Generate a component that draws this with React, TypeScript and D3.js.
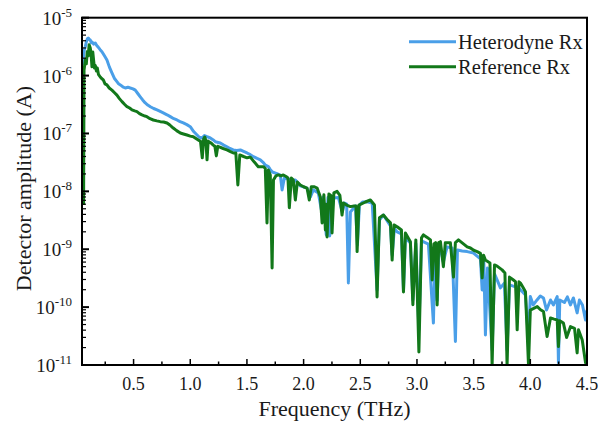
import React from "react";
import * as d3 from "d3";

// ---- data (frequency in THz, amplitude in A) ----
const heteroFreq = [0.050,0.065,0.075,0.083,0.092,0.100,0.110,0.118,0.127,0.135,0.148,0.162,0.175,0.188,0.205,0.221,0.243,0.265,0.287,0.309,0.330,0.353,0.368,0.383,0.405,0.427,0.450,0.471,0.495,0.515,0.537,0.559,0.580,0.603,0.625,0.648,0.677,0.707,0.735,0.762,0.795,0.824,0.855,0.883,0.910,0.939,0.970,1.000,1.030,1.060,1.080,1.104,1.125,1.148,1.177,1.200,1.221,1.265,1.295,1.324,1.350,1.380,1.410,1.442,1.470,1.501,1.530,1.557,1.590,1.618,1.640,1.662,1.689,1.705,1.724,1.759,1.795,1.810,1.830,1.855,1.883,1.927,1.971,2.030,2.060,2.086,2.130,2.157,2.174,2.200,2.215,2.230,2.263,2.307,2.342,2.360,2.380,2.395,2.413,2.457,2.475,2.492,2.519,2.560,2.605,2.648,2.669,2.704,2.766,2.781,2.801,2.825,2.863,2.881,2.898,2.942,2.964,2.990,3.017,3.040,3.101,3.145,3.160,3.178,3.195,3.207,3.233,3.266,3.310,3.339,3.357,3.399,3.443,3.499,3.560,3.575,3.590,3.604,3.622,3.663,3.684,3.707,3.736,3.771,3.795,3.816,3.850,3.884,3.913,3.957,3.984,4.000,4.026,4.059,4.088,4.116,4.143,4.178,4.204,4.237,4.248,4.260,4.301,4.327,4.354,4.380,4.413,4.433,4.460,4.487,4.500];
const heteroAmp = [1.52e-6,2.77e-6,3.2e-6,3.8e-6,4.3e-6,4.46e-6,4.2e-6,4.1e-6,3.7e-6,3.8e-6,3.5e-6,3.66e-6,3.3e-6,3.1e-6,2.8e-6,2.59e-6,2.2e-6,1.86e-6,1.4e-6,1.11e-6,9.0e-7,7.85e-7,7.2e-7,6.9e-7,6.4e-7,6.1e-7,6.3e-7,6.1e-7,5.9e-7,5.6e-7,4.9e-7,4.3e-7,3.8e-7,3.37e-7,3.1e-7,2.9e-7,2.7e-7,2.55e-7,2.4e-7,2.26e-7,2.1e-7,1.95e-7,1.8e-7,1.71e-7,1.6e-7,1.52e-7,1.42e-7,1.31e-7,1.08e-7,9.4e-8,8.6e-8,8.35e-8,9.2e-8,8.8e-8,8.35e-8,7.8e-8,7.2e-8,6.85e-8,6.3e-8,5.9e-8,5.5e-8,5.2e-8,5.1e-8,5.2e-8,4.9e-8,4.6e-8,4.3e-8,3.97e-8,3.7e-8,3.5e-8,3.2e-8,2.86e-8,2.67e-8,2.4e-8,2.16e-8,2.05e-8,1.9e-8,1.06e-8,1.7e-8,1.65e-8,1.57e-8,1.57e-8,1.24e-8,1.14e-8,8.0e-9,1.06e-8,9.4e-9,4.77e-9,8.0e-9,1.77e-9,7.8e-9,1.7e-9,7.7e-9,7.8e-9,4.4e-9,6.3e-9,6.0e-9,2.62e-10,4.4e-9,5.6e-9,1.19e-9,5.8e-9,6.55e-9,6.6e-9,6.3e-9,1.98e-10,3.2e-9,3.9e-9,2.53e-9,7.9e-10,2.3e-9,2.0e-9,1.84e-9,1.9e-10,1.57e-9,1.29e-9,1.33e-10,1.25e-9,4.05e-11,1.39e-9,1.23e-9,5.3e-11,1.05e-9,1.3e-10,1.1e-9,1.1e-9,6.05e-10,1.1e-9,1.05e-9,2.54e-11,9.7e-10,9.3e-10,9.1e-10,8.6e-10,6.8e-10,1.98e-10,6.0e-10,3.3e-11,4.75e-10,1.82e-11,3.75e-10,2.95e-10,2.15e-10,2.6e-10,1.82e-11,2.42e-10,2.3e-10,2.26e-10,2.0e-10,1.62e-10,2.7e-11,1.52e-10,1.09e-10,1.33e-10,1.56e-10,1.44e-10,8.9e-11,1.33e-10,1.09e-10,1.52e-10,1.09e-11,1.33e-10,1.2e-10,1.5e-10,1.09e-10,1.44e-10,7.95e-11,1.33e-10,1.09e-10,6.0e-11,8.9e-11];

const refFreq = [0.059,0.063,0.075,0.083,0.092,0.100,0.108,0.118,0.126,0.133,0.140,0.148,0.155,0.162,0.172,0.180,0.190,0.206,0.218,0.233,0.248,0.265,0.285,0.309,0.330,0.353,0.375,0.398,0.420,0.442,0.465,0.486,0.510,0.530,0.552,0.574,0.600,0.618,0.645,0.674,0.705,0.736,0.765,0.795,0.820,0.850,0.880,0.912,0.940,0.971,1.000,1.027,1.050,1.071,1.090,1.106,1.118,1.128,1.138,1.148,1.158,1.168,1.185,1.203,1.217,1.230,1.243,1.256,1.290,1.324,1.350,1.380,1.402,1.420,1.437,1.470,1.501,1.530,1.565,1.600,1.645,1.662,1.677,1.689,1.706,1.722,1.734,1.755,1.777,1.800,1.821,1.845,1.862,1.874,1.892,1.909,1.927,1.945,1.971,2.000,2.030,2.050,2.068,2.095,2.119,2.148,2.163,2.179,2.192,2.200,2.207,2.223,2.240,2.251,2.267,2.295,2.320,2.339,2.351,2.380,2.413,2.445,2.462,2.472,2.488,2.545,2.589,2.625,2.648,2.669,2.704,2.735,2.766,2.781,2.797,2.825,2.863,2.881,2.898,2.942,2.964,2.990,3.017,3.040,3.057,3.090,3.119,3.134,3.150,3.165,3.178,3.192,3.207,3.233,3.250,3.266,3.295,3.322,3.339,3.366,3.399,3.443,3.472,3.500,3.531,3.560,3.575,3.587,3.604,3.644,3.663,3.684,3.707,3.751,3.776,3.795,3.816,3.845,3.869,3.884,3.900,3.913,3.935,3.957,3.984,4.000,4.030,4.061,4.090,4.116,4.148,4.178,4.210,4.237,4.248,4.260,4.292,4.320,4.354,4.390,4.413,4.425,4.458,4.487,4.500];
const refAmp = [5.8e-9,1.25e-6,1.9e-6,1.6e-6,2.6e-6,2.2e-6,3.4e-6,3.0e-6,2.2e-6,1.42e-6,2.56e-6,1.8e-6,1.35e-6,1.5e-6,1.2e-6,1.35e-6,1.05e-6,9.45e-7,8.9e-7,8.4e-7,7.2e-7,6.9e-7,6.1e-7,5.6e-7,5.1e-7,4.6e-7,4.0e-7,3.55e-7,3.2e-7,2.9e-7,2.75e-7,2.55e-7,2.45e-7,2.38e-7,2.2e-7,2.09e-7,2.0e-7,1.95e-7,1.8e-7,1.71e-7,1.65e-7,1.6e-7,1.58e-7,1.52e-7,1.4e-7,1.24e-7,1.12e-7,1.02e-7,9.8e-8,9.4e-8,9.0e-8,8.8e-8,8.2e-8,7.7e-8,7.4e-8,3.8e-8,8.0e-8,8.7e-8,7.6e-8,3.5e-8,7.4e-8,7.1e-8,6.8e-8,6.3e-8,6.0e-8,4.1e-8,6.0e-8,5.85e-8,5.5e-8,5.2e-8,4.9e-8,4.6e-8,4.6e-8,1.29e-8,4.25e-8,4.0e-8,3.8e-8,3.9e-8,3.2e-8,2.67e-8,2.67e-8,2.5e-8,2.85e-9,2.34e-8,1.92e-8,4.75e-10,1.57e-8,1.85e-8,1.92e-8,1.85e-8,1.92e-8,1.8e-8,1.7e-8,5.2e-9,1.7e-8,1.57e-8,7.1e-9,1.45e-8,1.29e-8,1.2e-8,1.14e-8,7.1e-9,1.2e-8,1.2e-8,1.14e-8,8.0e-9,2.85e-9,8.7e-9,2.15e-9,6e-9,1.63e-9,9.0e-9,8.5e-9,1.91e-9,9.4e-9,1.0e-8,8.5e-9,3.9e-9,6.3e-9,5.8e-9,5.45e-9,5.6e-9,5.6e-9,9.1e-10,5.8e-9,6.55e-9,7.1e-9,5.8e-9,1.5e-10,3.5e-9,3.9e-9,3.3e-9,2.85e-9,6.5e-10,2.63e-9,2.45e-9,2.15e-9,1.83e-10,1.91e-9,1.35e-9,1.1e-10,1.45e-9,1.68e-11,1.57e-9,1.77e-9,1.6e-9,1.45e-9,2.95e-10,1.23e-9,1.3e-9,1.09e-10,1.3e-9,1.35e-9,5.0e-10,1.3e-9,1.29e-9,1.29e-9,3.3e-10,1.3e-9,1.45e-9,1.29e-9,1.1e-9,1.05e-9,9.6e-10,9.1e-10,8.5e-10,3.2e-10,7.9e-10,6.5e-10,5.8e-10,1.0e-11,5.35e-10,5.1e-10,4.4e-10,3.9e-10,1.0e-11,3.3e-10,3.0e-10,2.75e-10,4.05e-11,2.73e-10,2.6e-10,2.2e-10,1.85e-10,1.0e-11,8.9e-11,9.5e-11,1.02e-10,9.0e-11,8.4e-11,3.1e-11,6.5e-11,6.2e-11,6.0e-11,2.08e-11,5.8e-11,5.3e-11,3.0e-11,4.6e-11,4.3e-11,1.62e-11,4.05e-11,2.7e-11,1.1e-11,1.0e-11];

const xMajorTicks = [0.5, 1.0, 1.5, 2.0, 2.5, 3.0, 3.5, 4.0, 4.5];
const xMinorTicks = [0.25, 0.75, 1.25, 1.75, 2.25, 2.75, 3.25, 3.75, 4.25];
const yExponents = [-11, -10, -9, -8, -7, -6, -5];
const seriesNames = ["Heterodyne Rx", "Reference Rx"];

const W = 601, H = 421;
const L = 82, R = 587, T = 17.7, B = 365;
const BLUE = "#4a9fe8";
const GREEN = "#12781a";
const FONT = '"Liberation Serif", Tinos, "Times New Roman", Times, "Nimbus Roman", "DejaVu Serif", serif';
const TXT = "#1a1a1a";

export default function App() {
  const x = d3.scaleLinear().domain([0.045, 4.5]).range([L, R]);
  const y = d3.scaleLog().domain([1e-11, 1e-5]).range([B, T]);

  const mk = (fs: number[], as: number[]) =>
    d3.line<number>().x((_, i) => x(fs[i])).y((a) => y(Math.max(a, 1e-11)))(as) || "";

  const heteroPath = mk(heteroFreq, heteroAmp);
  const refPath = mk(refFreq, refAmp);

  const yMinor: number[] = [];
  for (let e = -11; e < -5; e++) for (let m = 2; m <= 9; m++) yMinor.push(m * Math.pow(10, e));

  const ts = { fontFamily: FONT };

  return (
    <svg width={W} height={H} style={{ position: "absolute", left: 0, top: 0, background: "#fff", fontFamily: FONT }}>
      <rect x={0} y={0} width={W} height={H} fill="#fff" />
      <defs>
        <clipPath id="plotclip">
          <rect x={L} y={T} width={R - L} height={B - T} />
        </clipPath>
      </defs>
      <g clipPath="url(#plotclip)" fill="none" strokeLinejoin="round">
        <path d={heteroPath} stroke={BLUE} strokeWidth={3} />
        <path d={refPath} stroke={GREEN} strokeWidth={3} />
      </g>
      <rect x={L} y={T} width={R - L} height={B - T} fill="none" stroke="#000" strokeWidth={2} />
      {xMajorTicks.map((t) => (
        <line key={"xM" + t} x1={x(t)} x2={x(t)} y1={B} y2={B - 6} stroke="#000" strokeWidth={1.5} />
      ))}
      {xMinorTicks.map((t) => (
        <line key={"xm" + t} x1={x(t)} x2={x(t)} y1={B} y2={B - 3.5} stroke="#000" strokeWidth={1.5} />
      ))}
      {xMajorTicks.map((t) => (
        <text key={"xl" + t} x={x(t)} y={390} textAnchor="middle" fontSize={18} fill={TXT} style={ts}>
          {t.toFixed(1)}
        </text>
      ))}
      {yExponents.map((e) => (
        <line key={"yM" + e} x1={L} x2={L + 7} y1={y(Math.pow(10, e))} y2={y(Math.pow(10, e))} stroke="#000" strokeWidth={2} />
      ))}
      {yMinor.map((v, i) => (
        <line key={"ym" + i} x1={L} x2={L + 4} y1={y(v)} y2={y(v)} stroke="#000" strokeWidth={1.2} />
      ))}
      {yExponents.map((e) => (
        <text key={"yl" + e} x={72} y={y(Math.pow(10, e)) + 7} textAnchor="end" fontSize={19} fill={TXT} style={ts}>
          10<tspan fontSize={13} dy={-8}>{String(e)}</tspan>
        </text>
      ))}
      <text x={334.5} y={416} textAnchor="middle" fontSize={22} fill={TXT} style={ts}>Frequency (THz)</text>
      <text transform="translate(31,188.5) rotate(-90)" textAnchor="middle" fontSize={22} fill={TXT} style={ts}>
        Detector amplitude (A)
      </text>
      <line x1={409} x2={456} y1={41.7} y2={41.7} stroke={BLUE} strokeWidth={3} />
      <line x1={409} x2={456} y1={66.7} y2={66.7} stroke={GREEN} strokeWidth={3} />
      <text x={458} y={48.5} fontSize={20.5} fill={TXT} style={ts}>{seriesNames[0]}</text>
      <text x={458} y={73.5} fontSize={20.5} fill={TXT} style={ts}>{seriesNames[1]}</text>
    </svg>
  );
}
